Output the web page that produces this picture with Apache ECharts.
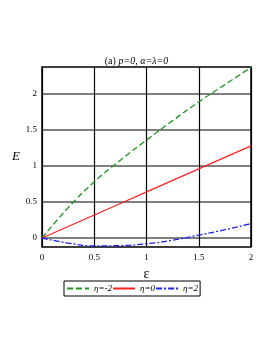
<!DOCTYPE html>
<html><head><meta charset="utf-8">
<script src="https://cdn.jsdelivr.net/npm/echarts@6/dist/echarts.min.js"></script>
<style>html,body{margin:0;padding:0;background:#fff}#c{width:273px;height:353px}</style>
</head><body><div id="c"></div>
<script>
const xs = [0, 0.25, 0.5, 0.75, 1, 1.25, 1.5, 1.75, 2];
const etaM2 = [0, 0.42, 0.78, 1.08, 1.36, 1.63, 1.89, 2.13, 2.37];
const eta0 = [0, 0.16, 0.32, 0.48, 0.64, 0.80, 0.96, 1.12, 1.28];
const eta2 = [0, -0.07, -0.11, -0.105, -0.08, -0.03, 0.04, 0.115, 0.2];
const yTicks = [0, 0.5, 1, 1.5, 2];
const hLines = [0, 0.5, 1, 1.5, 2];
const names = ['η=-2', 'η=0', 'η=2'];
const pairs = a => xs.map((x, i) => [x, a[i]]);
const font = 'Liberation Serif';
const chart = echarts.init(document.getElementById('c'));
const gridSeries = hLines.map(v => ({
  type: 'line', data: [[0, v], [2, v]], symbol: 'none', silent: true, z: 1,
  lineStyle: { color: '#000', width: 1.2 }
}));
chart.setOption({
  animation: false,
  title: {
    text: '{n|(a) }{i|p=0, α=λ=0}', left: 'center', top: 51,
    textStyle: { fontWeight: 'normal', rich: {
      n: { fontFamily: font, fontSize: 10, fontWeight: 'normal', color: '#000' },
      i: { fontFamily: font, fontSize: 10, fontWeight: 'normal', fontStyle: 'italic', color: '#000' } } }
  },
  grid: { left: 42, right: 22, top: 67, bottom: 106, show: true, borderColor: '#000', borderWidth: 1.5 },
  xAxis: {
    type: 'value', min: 0, max: 2, interval: 0.5,
    name: 'ε', nameLocation: 'middle', nameGap: 18,
    nameTextStyle: { fontFamily: font, fontSize: 14, color: '#000' },
    axisLine: { show: false }, axisTick: { show: false },
    axisLabel: { fontFamily: font, fontSize: 9, color: '#000', margin: 6, formatter: v => String(v) },
    splitLine: { lineStyle: { color: '#000', width: 1.2 } }
  },
  yAxis: {
    type: 'value', min: -0.125, max: 2.375, interval: 0.5,
    name: 'E', nameLocation: 'middle', nameGap: 22, nameRotate: 0,
    nameTextStyle: { fontFamily: font, fontSize: 13, fontStyle: 'italic', color: '#000' },
    axisLine: { show: false }, axisTick: { show: false },
    axisLabel: { fontFamily: font, fontSize: 9, color: '#000', margin: 5,
      customValues: yTicks, formatter: v => String(v) },
    splitLine: { show: false }
  },
  legend: {
    left: 64, top: 281, orient: 'horizontal',
    borderColor: '#000', borderWidth: 1, padding: [3, 2, 3, 2], itemGap: 0,
    itemWidth: 22, itemHeight: 8,
    itemStyle: { opacity: 0 },
    textStyle: { fontFamily: font, fontSize: 9, fontStyle: 'italic', color: '#000', padding: [0, 4, 0, 0] },
    data: names
  },
  series: [
    { name: names[0], type: 'line', data: pairs(etaM2), smooth: true, symbol: 'none',
      lineStyle: { color: '#1e961e', width: 1.3, type: [6, 3] }, itemStyle: { color: '#1e961e' } },
    { name: names[1], type: 'line', data: pairs(eta0), symbol: 'none',
      lineStyle: { color: '#ff2020', width: 1.2, type: 'solid' }, itemStyle: { color: '#ff2020' } },
    { name: names[2], type: 'line', data: pairs(eta2), smooth: true, symbol: 'none',
      lineStyle: { color: '#2020f0', width: 1.3, type: [6, 2, 2, 2] }, itemStyle: { color: '#2020f0' } }
  ].concat(gridSeries)
});
</script></body></html>
